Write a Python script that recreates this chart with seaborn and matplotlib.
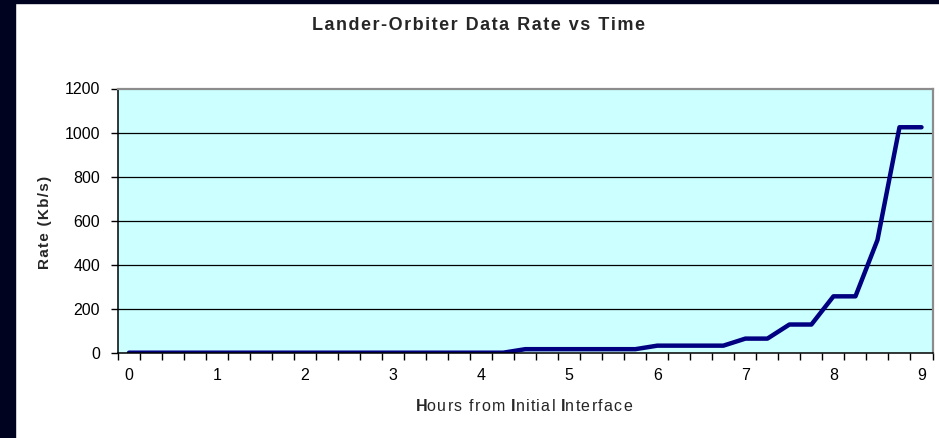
import numpy as np
import pandas as pd
import matplotlib
matplotlib.use('Agg')
import matplotlib.pyplot as plt
from matplotlib.patches import Rectangle
import seaborn as sns

# ---------------------------------------------------------------------------
# Dane: szybkość transmisji lander -> orbiter co 15 minut
# ---------------------------------------------------------------------------
hours = [0.0, 0.25, 0.5, 0.75, 1.0, 1.25, 1.5, 1.75, 2.0, 2.25, 2.5, 2.75,
         3.0, 3.25, 3.5, 3.75, 4.0, 4.25, 4.5, 4.75, 5.0, 5.25, 5.5, 5.75,
         6.0, 6.25, 6.5, 6.75, 7.0, 7.25, 7.5, 7.75, 8.0, 8.25, 8.5, 8.75, 9.0]
rate_kbs = [0, 0, 0, 0, 0, 0, 0, 0, 0, 0, 0, 0,
            0, 0, 0, 0, 0, 0, 16, 16, 16, 16, 16, 16,
            32, 32, 32, 32, 64, 64, 128, 128, 256, 256, 512, 1024, 1024]
x_labels = ['0', '1', '2', '3', '4', '5', '6', '7', '8', '9']
y_ticks = [0, 200, 400, 600, 800, 1000, 1200]

df = pd.DataFrame({'Hours': hours, 'Rate': rate_kbs})

sns.set_theme(style='ticks')
plt.rcParams['font.family'] = ['Liberation Sans', 'DejaVu Sans']
plt.rcParams['mathtext.fontset'] = 'custom'
plt.rcParams['mathtext.rm'] = 'Liberation Sans'
plt.rcParams['mathtext.bf'] = 'Liberation Sans:bold'


def spaced(text):
    """Excelowe rozstrzelenie liter — hair space między znakami."""
    return '\u200a'.join(text)


W, H = 939, 438
fig = plt.figure(figsize=(W / 100, H / 100), dpi=100, facecolor='white')
ax = fig.add_axes([118 / W, (H - 352.7) / H, 814.5 / W, 264.2 / H])
ax.set_facecolor('#ccffff')

sns.lineplot(data=df, x='Hours', y='Rate', color='#000080', linewidth=3.2, ax=ax)

# os X jak w Excelu: kategorie co 0.25 h, podziałki między kategoriami
ax.set_xlim(hours[0] - 0.125, hours[-1] + 0.125)
ax.set_xticks([h - 0.125 for h in hours] + [hours[-1] + 0.125])
ax.set_xticklabels([])
ax.set_xticks([float(l) for l in x_labels], minor=True)
ax.set_xticklabels(x_labels, minor=True)
ax.tick_params(axis='x', which='major', length=5, width=1, color='black', direction='out')
ax.tick_params(axis='x', which='minor', length=0, pad=11, labelsize=11.5, labelcolor='black')

ax.set_ylim(0, 1200)
ax.set_yticks(y_ticks)
ax.tick_params(axis='y', length=5, width=1, color='black', pad=8, labelsize=11.5, labelcolor='black')
for y in y_ticks[1:-1]:
    ax.axhline(y, color='black', linewidth=0.9, zorder=0.5)

for side in ['left', 'bottom']:
    ax.spines[side].set_color('black')
    ax.spines[side].set_linewidth(1.1)
for side in ['top', 'right']:
    ax.spines[side].set_visible(True)
    ax.spines[side].set_color('#8c8c8c')
    ax.spines[side].set_linewidth(1.6)

ax.set_xlabel('')
ax.set_ylabel('')

fig.text(478 / W, 1 - 25 / H, spaced('Lander-Orbiter Data Rate vs Time'),
         ha='center', va='center', fontsize=13, fontweight='bold')
fig.text(45 / W, 1 - 222 / H, spaced('Rate (Kb/s)'), rotation=90,
         ha='center', va='center', fontsize=11, fontweight='bold')
fig.text(524 / W, 1 - 406 / H,
         r'$\mathbf{H}$' + spaced('ours from ') + r'$\mathbf{I}$' + spaced('nitial ')
         + r'$\mathbf{I}$' + spaced('nterface'),
         ha='center', va='center', fontsize=11.5)

# ciemna ramka po lewej i u góry
fig.patches.append(Rectangle((0, 0), 15 / W, 1, transform=fig.transFigure,
                             color='#000320', zorder=10))
fig.patches.append(Rectangle((0, 1 - 3 / H), 1, 3 / H, transform=fig.transFigure,
                             color='#000320', zorder=10))

fig.savefig('out.png', dpi=100)
